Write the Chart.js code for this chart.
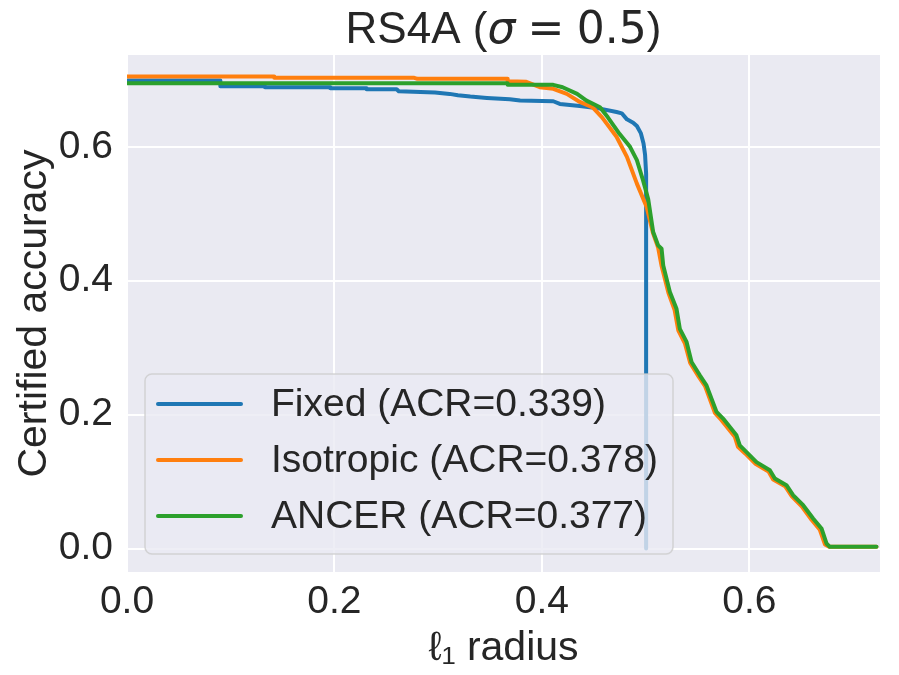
<!DOCTYPE html>
<html lang="en">
<head>
    <meta charset="UTF-8">
    <title>RS4A certified accuracy</title>
    <script src="https://cdn.jsdelivr.net/npm/chart.js@4.4.1/dist/chart.umd.min.js"></script>
    <style>
        body{
            margin: 0;
            background: #ffffff;
        }
        #chart{
            display: block;
        }
    </style>
</head>
<body>
    <canvas id="chart" width="899" height="675"></canvas>
    <script>
        // series, [radius, certified accuracy]
        const fixedPts = [
            [0, 0.699], [0.090, 0.699], [0.090, 0.6905], [0.133, 0.6905], [0.133, 0.689],
            [0.196, 0.689], [0.196, 0.6875], [0.231, 0.6875], [0.231, 0.686], [0.260, 0.686],
            [0.262, 0.683], [0.297, 0.681], [0.311, 0.679], [0.319, 0.677], [0.331, 0.675],
            [0.347, 0.673], [0.369, 0.671], [0.379, 0.669], [0.411, 0.668], [0.4173, 0.664],
            [0.4366, 0.661], [0.456, 0.657], [0.472, 0.652], [0.477, 0.650], [0.482, 0.641],
            [0.488, 0.636], [0.4916, 0.631], [0.4955, 0.620], [0.498, 0.605], [0.4995, 0.588],
            [0.5005, 0.560], [0.5005, 0.0]
        ];
        const isoPts = [
            [0, 0.705], [0.142, 0.705], [0.142, 0.703], [0.277, 0.703], [0.280, 0.7015],
            [0.367, 0.7015], [0.367, 0.698], [0.385, 0.697], [0.398, 0.689], [0.411, 0.6866],
            [0.424, 0.679], [0.4366, 0.667], [0.449, 0.659], [0.458, 0.644], [0.472, 0.615],
            [0.482, 0.585], [0.4916, 0.545], [0.501, 0.510], [0.507, 0.472], [0.512, 0.450],
            [0.5155, 0.4215], [0.522, 0.382], [0.528, 0.356], [0.5315, 0.326], [0.538, 0.306],
            [0.543, 0.277], [0.551, 0.257], [0.5575, 0.242], [0.567, 0.202], [0.573, 0.192],
            [0.586, 0.167], [0.589, 0.152], [0.596, 0.142], [0.6055, 0.127], [0.6185, 0.115],
            [0.623, 0.103], [0.6345, 0.093], [0.641, 0.078], [0.6505, 0.063], [0.660, 0.043],
            [0.668, 0.028], [0.673, 0.006], [0.677, 0.0025], [0.7226, 0.0025]
        ];
        const ancerPts = [
            [0, 0.695], [0.367, 0.695], [0.367, 0.6925], [0.411, 0.6925], [0.420, 0.689],
            [0.434, 0.679], [0.443, 0.669], [0.456, 0.659], [0.4636, 0.644], [0.475, 0.619],
            [0.485, 0.600], [0.4916, 0.580], [0.4975, 0.550], [0.5025, 0.522], [0.5073, 0.4727],
            [0.5121, 0.4527], [0.5154, 0.4478], [0.517, 0.4229], [0.5234, 0.383], [0.5298, 0.358],
            [0.533, 0.328], [0.5395, 0.3085], [0.5443, 0.2786], [0.5523, 0.2587], [0.5587, 0.2437],
            [0.5684, 0.204], [0.5747, 0.194], [0.5876, 0.169], [0.5908, 0.154], [0.5973, 0.144],
            [0.6069, 0.129], [0.6198, 0.117], [0.6246, 0.1045], [0.6358, 0.0945], [0.6422, 0.0796],
            [0.6519, 0.0647], [0.6615, 0.0448], [0.6696, 0.0299], [0.6744, 0.0075], [0.6776, 0.0025],
            [0.7226, 0.0025]
        ];
        const seriesNames = ["Fixed (ACR=0.339)", "Isotropic (ACR=0.378)", "ANCER (ACR=0.377)"];
        const seriesColors = ["#1f77b4", "#ff7f0e", "#2ca02c"];
        const xTicks = [0.0, 0.2, 0.4, 0.6];
        const yTicks = [0.0, 0.2, 0.4, 0.6];

        const FONT = "'Liberation Sans', Arial, sans-serif";
        const MATH = "'DejaVu Sans', sans-serif";
        const INK = "#262626";
        Chart.defaults.font.family = FONT;
        Chart.defaults.color = INK;

        const toXY = pts => pts.map(p => ({x: p[0], y: p[1]}));

        const bgPlugin = {
            id: "bg",
            beforeDraw(chart){
                const a = chart.chartArea;
                const ctx = chart.ctx;
                ctx.save();
                ctx.fillStyle = "#eaeaf2";
                ctx.fillRect(a.left, a.top, a.right - a.left, a.bottom - a.top);
                ctx.restore();
            }
        };

        // legend box inside the axes, lower left, drawn over the lines
        const legendPlugin = {
            id: "boxLegend",
            afterDatasetsDraw(chart){
                const ctx = chart.ctx;
                const x0 = 145, y0 = 374, w = 528, h = 180, r = 7;
                ctx.save();
                ctx.beginPath();
                ctx.roundRect(x0, y0, w, h, r);
                ctx.fillStyle = "rgba(234,234,242,0.8)";
                ctx.fill();
                ctx.lineWidth = 1.5;
                ctx.strokeStyle = "rgba(204,204,204,0.8)";
                ctx.stroke();
                chart.data.datasets.forEach((ds, i) => {
                    const y = 404 + i * 56;
                    ctx.beginPath();
                    ctx.moveTo(158, y);
                    ctx.lineTo(241, y);
                    ctx.lineWidth = 4;
                    ctx.lineCap = "round";
                    ctx.strokeStyle = ds.borderColor;
                    ctx.stroke();
                    ctx.fillStyle = INK;
                    ctx.font = "39px " + FONT;
                    ctx.textBaseline = "middle";
                    ctx.textAlign = "left";
                    ctx.fillText(ds.label, 271, y + 1);
                });
                ctx.restore();
            }
        };

        // title: plain text plus a small math part (italic sigma, spaced equals)
        const titlePlugin = {
            id: "mathTitle",
            afterDraw(chart){
                const ctx = chart.ctx;
                const a = chart.chartArea;
                const size = 44;
                const gap = size * 0.28;
                const parts = [
                    ["RS4A (", size + "px " + FONT, 0],
                    ["\u03c3", "oblique " + size + "px " + MATH, gap],
                    ["=", size + "px " + MATH, gap],
                    ["0.5", size + "px " + MATH, 0],
                    [")", size + "px " + FONT, 0]
                ];
                ctx.save();
                ctx.fillStyle = INK;
                ctx.textBaseline = "alphabetic";
                ctx.textAlign = "left";
                let total = 0;
                parts.forEach(p => {
                    ctx.font = p[1];
                    total += ctx.measureText(p[0]).width + p[2];
                });
                let x = (a.left + a.right) / 2 - total / 2;
                parts.forEach(p => {
                    ctx.font = p[1];
                    ctx.fillText(p[0], x, 43);
                    x += ctx.measureText(p[0]).width + p[2];
                });
                ctx.restore();
            }
        };

        const mkSet = (pts, i, ord) => ({
            label: seriesNames[i],
            data: toXY(pts),
            borderColor: seriesColors[i],
            backgroundColor: seriesColors[i],
            borderWidth: 4,
            pointRadius: 0,
            tension: 0,
            borderCapStyle: "round",
            borderJoinStyle: "round",
            fill: false,
            order: ord
        });

        new Chart(document.getElementById("chart"), {
            type: "line",
            data: {
                datasets: [
                    mkSet(fixedPts, 0, 3),
                    mkSet(isoPts, 1, 2),
                    mkSet(ancerPts, 2, 1)
                ]
            },
            plugins: [bgPlugin, legendPlugin, titlePlugin],
            options: {
                responsive: false,
                animation: false,
                layout: {padding: {top: 55, right: 19, left: 0, bottom: 0}},
                plugins: {
                    legend: {display: false},
                    tooltip: {enabled: false}
                },
                scales: {
                    x: {
                        type: "linear",
                        min: 0,
                        max: 0.726,
                        afterBuildTicks: s => { s.ticks = xTicks.map(v => ({value: v})); },
                        afterFit: s => { s.height = 103; },
                        grid: {color: "#ffffff", lineWidth: 2, drawTicks: false},
                        border: {display: false},
                        ticks: {
                            font: {size: 39},
                            color: INK,
                            padding: 7,
                            maxRotation: 0,
                            callback: v => v.toFixed(1)
                        },
                        title: {
                            display: true,
                            text: "\u2113\u2081 radius",
                            font: {size: 41},
                            color: INK,
                            padding: {top: 0, bottom: 2}
                        }
                    },
                    y: {
                        min: -0.0351,
                        max: 0.7371,
                        afterBuildTicks: s => { s.ticks = yTicks.map(v => ({value: v})); },
                        afterFit: s => { s.width = 127; },
                        grid: {color: "#ffffff", lineWidth: 2, drawTicks: false},
                        border: {display: false},
                        ticks: {
                            font: {size: 39},
                            color: INK,
                            padding: 14,
                            callback: v => v.toFixed(1)
                        },
                        title: {
                            display: true,
                            text: "Certified accuracy",
                            font: {size: 41},
                            color: INK,
                            padding: {top: 10, bottom: 0}
                        }
                    }
                }
            }
        });
    </script>
</body>
</html>
